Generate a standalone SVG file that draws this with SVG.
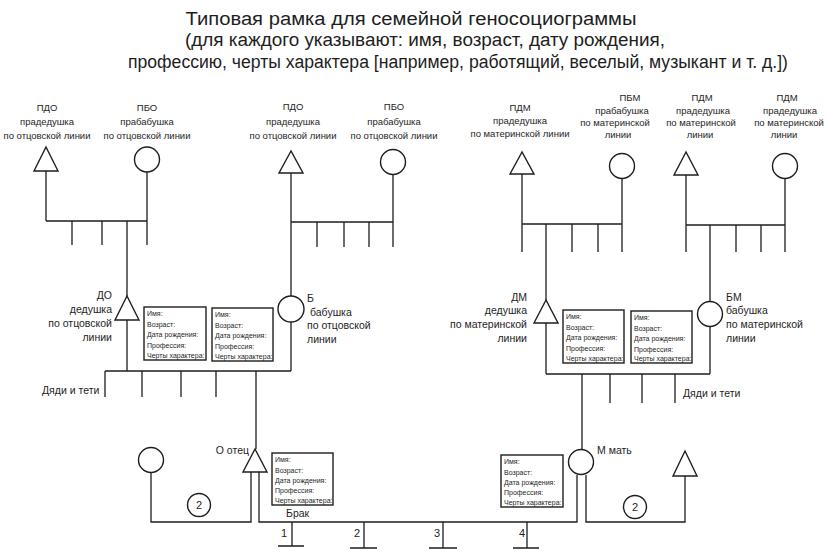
<svg xmlns="http://www.w3.org/2000/svg" width="828" height="559" viewBox="0 0 828 559">
<style>
text{font-family:"Liberation Sans",Arial,sans-serif;fill:#1e1e1e}
.t{font-size:18px;text-anchor:middle}
.l{font-size:9.5px;text-anchor:middle}
.m{font-size:10.5px}
.r{text-anchor:end}
.c{font-size:7px}
.n{font-size:11px;text-anchor:middle}
.sh{fill:#fff;stroke:#1e1e1e;stroke-width:1.4}
.box{fill:#fff;stroke:#1e1e1e;stroke-width:1.4}
#connectors path{fill:none;stroke:#1e1e1e;stroke-width:1.3}
</style>
<rect width="828" height="559" fill="#fff"/>
<g id="title">
<text class="t" x="411" y="25" textLength="451" lengthAdjust="spacingAndGlyphs">Типовая рамка для семейной геносоциограммы</text>
<text class="t" x="425" y="46" textLength="480" lengthAdjust="spacingAndGlyphs">(для каждого указывают: имя, возраст, дату рождения,</text>
<text class="t" x="458" y="68" textLength="660" lengthAdjust="spacingAndGlyphs">профессию, черты характера [например, работящий, веселый, музыкант и т. д.])</text>
</g>
<g id="connectors">
<path d="M46,171V221M147,172V221M46,221H147M72,221V245M102,221V245M127,221V296M147,221V245"/>
<path d="M291,173V222M393,175V222M291,222H393M317,222V247M344,222V247M369,222V247M393,222V247M291,222V296"/>
<path d="M127,320V371M291,322V371M105,371H291M105,371V397M142,371V397M181,371V397M216,371V397M256,371V449"/>
<path d="M522,174V224M622,179V224M522,224H622M522,224V252M546,224V300M572,224V252M598,224V252M622,224V252"/>
<path d="M686,175V225M785,179V225M686,225H785M686,225V252M710,225V301M736,225V252M761,225V252M785,225V252"/>
<path d="M546,323V374M710,327V374M546,374H710M582,374V449M610,374V403M642,374V403M675,374V403"/>
<path d="M151,473V522H251V472"/>
<path d="M259,472V522H577V475"/>
<path d="M586,475V522H685V476"/>
<path d="M292,522V546M278,546H304M364,522V548M350,548H377M443,522V548M429,548H457M527,522V548M513,548H539"/>
</g>
<g id="pdo1">
<text class="l" x="47" y="111">ПДО</text>
<text class="l" x="47" y="125">прадедушка</text>
<text class="l" x="47" y="139">по отцовской линии</text>
<polygon class="sh" points="46,147 34,171 58,171"/>
</g>
<g id="pbo1">
<text class="l" x="147" y="111">ПБО</text>
<text class="l" x="147" y="125">прабабушка</text>
<text class="l" x="147" y="139">по отцовской линии</text>
<circle class="sh" cx="147" cy="159.5" r="12.5"/>
</g>
<g id="pdo2">
<text class="l" x="293" y="110">ПДО</text>
<text class="l" x="293" y="125">прадедушка</text>
<text class="l" x="293" y="139">по отцовской линии</text>
<polygon class="sh" points="291,151 279,173 303,173"/>
</g>
<g id="pbo2">
<text class="l" x="394" y="110">ПБО</text>
<text class="l" x="394" y="125">прабабушка</text>
<text class="l" x="394" y="139">по отцовской линии</text>
<circle class="sh" cx="393" cy="162" r="12.5"/>
</g>
<g id="pdm1">
<text class="l" x="520" y="111">ПДМ</text>
<text class="l" x="520" y="124">прадедушка</text>
<text class="l" x="520" y="137">по материнской линии</text>
<polygon class="sh" points="522,152 510,174 534,174"/>
</g>
<g id="pbm">
<text class="l" x="630" y="101">ПБМ</text>
<text class="l" x="622" y="114">прабабушка</text>
<text class="l" x="615" y="126">по материнской</text>
<text class="l" x="618" y="138">линии</text>
<circle class="sh" cx="622" cy="166" r="12.5"/>
</g>
<g id="pdm2">
<text class="l" x="702" y="101">ПДМ</text>
<text class="l" x="703" y="114">прадедушка</text>
<text class="l" x="701" y="126">по материнской</text>
<text class="l" x="700" y="138">линии</text>
<polygon class="sh" points="686,152 674,175 698,175"/>
</g>
<g id="pdm3">
<text class="l" x="787" y="101">ПДМ</text>
<text class="l" x="790" y="114">прадедушка</text>
<text class="l" x="789" y="126">по материнской</text>
<text class="l" x="784" y="138">линии</text>
<circle class="sh" cx="785" cy="166" r="12.5"/>
</g>
<g id="do">
<text class="m r" x="112" y="299">ДО</text>
<text class="m r" x="112" y="313">дедушка</text>
<text class="m r" x="112" y="327">по отцовской</text>
<text class="m r" x="112" y="341">линии</text>
<polygon class="sh" points="127,296 115,320 139,320"/>
</g>
<g id="b">
<text class="m" x="307" y="302">Б</text>
<text class="m" x="310" y="316">бабушка</text>
<text class="m" x="307" y="329">по отцовской</text>
<text class="m" x="307" y="343">линии</text>
<circle class="sh" cx="291" cy="309" r="13"/>
</g>
<g id="card-do">
<rect class="box" x="144" y="307" width="62" height="53"/>
<text class="c" x="147" y="316">Имя:</text>
<text class="c" x="147" y="326.5">Возраст:</text>
<text class="c" x="147" y="337">Дата рождения:</text>
<text class="c" x="147" y="347.5">Профессия:</text>
<text class="c" x="147" y="358">Черты характера:</text>
</g>
<g id="card-b">
<rect class="box" x="212" y="308" width="61" height="53"/>
<text class="c" x="215" y="317">Имя:</text>
<text class="c" x="215" y="327.5">Возраст:</text>
<text class="c" x="215" y="338">Дата рождения:</text>
<text class="c" x="215" y="348.5">Профессия:</text>
<text class="c" x="215" y="359">Черты характера:</text>
</g>
<g id="dm">
<text class="m r" x="527" y="301">ДМ</text>
<text class="m r" x="527" y="314">дедушка</text>
<text class="m r" x="527" y="328">по материнской</text>
<text class="m r" x="527" y="342">линии</text>
<polygon class="sh" points="546,300 534,323 558,323"/>
</g>
<g id="bm">
<text class="m" x="726" y="301">БМ</text>
<text class="m" x="726" y="314">бабушка</text>
<text class="m" x="726" y="328">по материнской</text>
<text class="m" x="726" y="342">линии</text>
<circle class="sh" cx="710" cy="314" r="12.5"/>
</g>
<g id="card-dm">
<rect class="box" x="563" y="310" width="61" height="53"/>
<text class="c" x="566" y="319">Имя:</text>
<text class="c" x="566" y="329.5">Возраст:</text>
<text class="c" x="566" y="340">Дата рождения:</text>
<text class="c" x="566" y="350.5">Профессия:</text>
<text class="c" x="566" y="361">Черты характера:</text>
</g>
<g id="card-bm">
<rect class="box" x="631" y="311" width="61" height="52"/>
<text class="c" x="634" y="320">Имя:</text>
<text class="c" x="634" y="330.5">Возраст:</text>
<text class="c" x="634" y="341">Дата рождения:</text>
<text class="c" x="634" y="351.5">Профессия:</text>
<text class="c" x="634" y="361">Черты характера:</text>
</g>
<g id="uncles-left"><text class="m" x="42" y="394">Дяди и тети</text></g>
<g id="uncles-right"><text class="m" x="683" y="397">Дяди и тети</text></g>
<g id="father">
<text class="m r" x="249" y="454">О отец</text>
<polygon class="sh" points="255,449 243,472 267,472"/>
</g>
<g id="card-father">
<rect class="box" x="272" y="453" width="61" height="52"/>
<text class="c" x="275" y="462">Имя:</text>
<text class="c" x="275" y="472.5">Возраст:</text>
<text class="c" x="275" y="483">Дата рождения:</text>
<text class="c" x="275" y="493">Профессия:</text>
<text class="c" x="275" y="503">Черты характера:</text>
</g>
<g id="mother">
<text class="m" x="597" y="454">М мать</text>
<circle class="sh" cx="581" cy="462" r="12.5"/>
</g>
<g id="card-mother">
<rect class="box" x="501" y="455" width="62" height="52"/>
<text class="c" x="504" y="464">Имя:</text>
<text class="c" x="504" y="474.5">Возраст:</text>
<text class="c" x="504" y="485">Дата рождения:</text>
<text class="c" x="504" y="495">Профессия:</text>
<text class="c" x="504" y="505">Черты характера:</text>
</g>
<g id="father-other"><circle class="sh" cx="151" cy="460" r="12.5"/></g>
<g id="mother-other"><polygon class="sh" points="685,451 673,476 697,476"/></g>
<g id="marriage2-left"><circle class="sh" cx="199" cy="505" r="11.5"/><text class="n" x="199" y="509">2</text></g>
<g id="marriage2-right"><circle class="sh" cx="635" cy="507" r="11.5"/><text class="n" x="635" y="511">2</text></g>
<g id="brak"><text class="m" x="286" y="517">Брак</text></g>
<g id="child1"><text class="n" x="284" y="537">1</text></g>
<g id="child2"><text class="n" x="357" y="537">2</text></g>
<g id="child3"><text class="n" x="437" y="537">3</text></g>
<g id="child4"><text class="n" x="522" y="537">4</text></g>
</svg>
